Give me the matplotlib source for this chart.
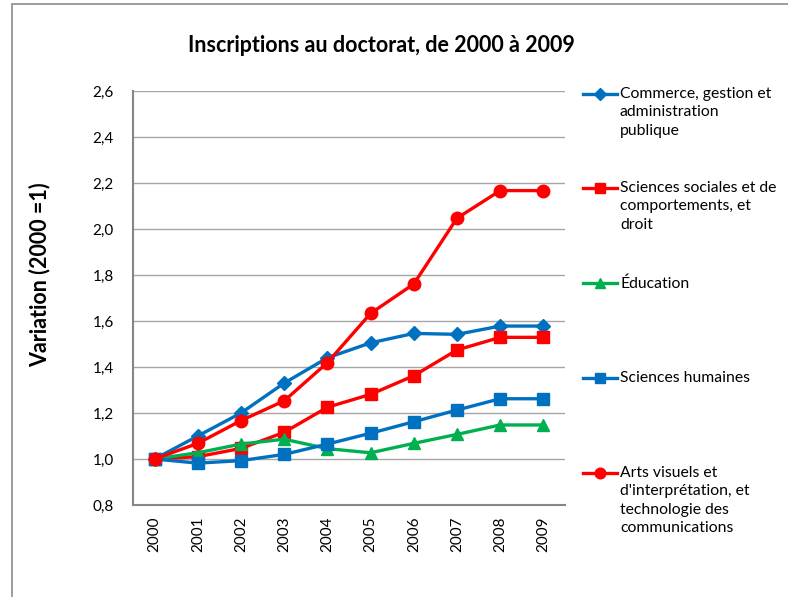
import matplotlib
matplotlib.use("Agg")
import matplotlib.pyplot as plt
from matplotlib.lines import Line2D
from matplotlib.patches import Rectangle

years = ["2000", "2001", "2002", "2003", "2004", "2005", "2006", "2007", "2008", "2009"]
commerce = [1.0, 1.10, 1.20, 1.33, 1.44, 1.505, 1.546, 1.542, 1.578, 1.578]
sociales = [1.0, 1.01, 1.046, 1.116, 1.225, 1.281, 1.362, 1.474, 1.529, 1.529]
education = [1.0, 1.027, 1.065, 1.086, 1.045, 1.027, 1.068, 1.107, 1.148, 1.148]
humaines = [1.0, 0.982, 0.993, 1.020, 1.065, 1.112, 1.162, 1.213, 1.262, 1.262]
arts = [1.0, 1.068, 1.167, 1.253, 1.419, 1.633, 1.761, 2.047, 2.167, 2.167]

labels = [
    "Commerce, gestion et\nadministration\npublique",
    "Sciences sociales et de\ncomportements, et\ndroit",
    "Éducation",
    "Sciences humaines",
    "Arts visuels et\nd'interprétation, et\ntechnologie des\ncommunications",
]
yticks = [0.8, 1.0, 1.2, 1.4, 1.6, 1.8, 2.0, 2.2, 2.4, 2.6]

BLUE = "#0070C0"
RED = "#FF0000"
GREEN = "#00B050"
styles = [
    (commerce, BLUE, "D", 7.5),
    (sociales, RED, "s", 8),
    (education, GREEN, "^", 9),
    (humaines, BLUE, "s", 8),
    (arts, RED, "o", 9),
]

plt.rcParams["font.family"] = ["Lato", "DejaVu Sans"]

W, H = 788, 597
fig = plt.figure(figsize=(W / 100, H / 100), dpi=100)
fig.patch.set_facecolor("white")
fig.add_artist(Rectangle((12 / W, -0.1), 1.2, 1 - 4 / H + 0.1, transform=fig.transFigure,
                         fill=False, edgecolor="#8C8C8C", lw=1.2))

ax = fig.add_axes([133 / W, 1 - 505 / H, (565 - 133) / W, (505 - 91) / H])
x = list(range(len(years)))
for vals, col, mk, ms in styles:
    ax.plot(x, vals, color=col, lw=2.4, marker=mk, markersize=ms,
            markerfacecolor=col, markeredgecolor=col, zorder=3)

ax.set_xlim(-0.5, len(years) - 0.5)
ax.set_ylim(0.8, 2.6)
ax.set_yticks(yticks)
ax.set_yticklabels([f"{v:.1f}".replace(".", ",") for v in yticks], fontsize=11)
ax.set_xticks(x)
ax.set_xticklabels(years, rotation=90, fontsize=11)
ax.tick_params(length=0, pad=14, axis="y")
ax.tick_params(length=0, pad=8, axis="x")
ax.grid(axis="y", color="#A6A6A6", lw=1.0, zorder=0)
for s in ["top", "right"]:
    ax.spines[s].set_visible(False)
for s in ["left", "bottom"]:
    ax.spines[s].set_color("#868686")
    ax.spines[s].set_linewidth(1.5)

fig.text(40 / W, 1 - 275 / H, "Variation (2000 =1)", rotation=90,
         ha="center", va="center", fontsize=15.5, fontweight="bold")
fig.text(381 / W, 1 - 45 / H, "Inscriptions au doctorat, de 2000 à 2009",
         ha="center", va="center", fontsize=15.5, fontweight="bold")

# Manual legend
ys = [94, 188, 283, 378, 473]
for (vals, col, mk, ms), lab, yy in zip(styles, labels, ys):
    yf = 1 - yy / H
    fig.add_artist(Line2D([583 / W, 617 / W], [yf, yf], transform=fig.transFigure,
                          color=col, lw=2.4))
    fig.add_artist(Line2D([600 / W], [yf], transform=fig.transFigure, color=col,
                          marker=mk, markersize=ms * 0.85, markerfacecolor=col,
                          markeredgecolor=col))
    fig.text(620 / W, yf + 7 / H, lab, ha="left", va="top", fontsize=11.3,
             linespacing=1.4)

fig.savefig("out.png", dpi=100, facecolor="white")
